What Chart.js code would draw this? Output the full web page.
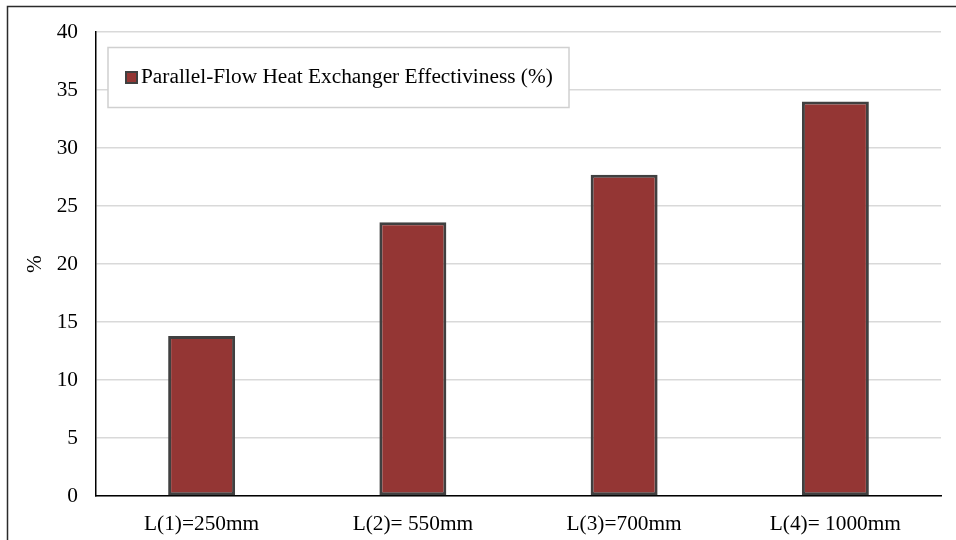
<!DOCTYPE html>
<html>
<head>
<meta charset="utf-8">
<title>Parallel-Flow Heat Exchanger Effectiviness</title>
<script src="https://cdn.jsdelivr.net/npm/chart.js@4/dist/chart.umd.min.js"></script>
<style>
  html, body { margin: 0; padding: 0; background: #ffffff; }
  #wrap { position: relative; width: 956px; height: 540px; }
  canvas { display: block; }
</style>
</head>
<body>
<div id="wrap"><canvas id="chart" width="956" height="540"></canvas></div>
<script>
// Tube lengths and the measured effectiveness for each
const categories = ['L(1)=250mm', 'L(2)= 550mm', 'L(3)=700mm', 'L(4)= 1000mm'];
const effectiveness = [13.8, 23.6, 27.7, 34.0];
const seriesLabel = 'Parallel-Flow Heat Exchanger Effectiviness (%)';
const yAxisTitle = '%';
const yMin = 0;
const yMax = 40;
const yStep = 5;

const FONT = '"Liberation Serif", "Times New Roman", serif';
const FONT_SIZE = 21.33;
const BAR_FILL = '#943634';
const BAR_EDGE = '#404040';

// Outer frame lines along the top and left of the figure
const framePlugin = {
  id: 'frame',
  beforeDraw(chart) {
    const ctx = chart.ctx;
    ctx.save();
    ctx.strokeStyle = '#2b2b2b';
    ctx.lineWidth = 1.5;
    ctx.beginPath();
    ctx.moveTo(7.5, chart.height + 2);
    ctx.lineTo(7.5, 6.5);
    ctx.lineTo(chart.width + 2, 6.5);
    ctx.stroke();
    ctx.restore();
  }
};

// Boxed legend placed inside the plot area, upper left
const boxedLegend = {
  id: 'boxedLegend',
  afterDraw(chart) {
    const ctx = chart.ctx;
    const area = chart.chartArea;
    const ds = chart.data.datasets[0];
    const x0 = area.left + 12;
    const y0 = 47.5;
    const w = 461;
    const h = 60;
    ctx.save();
    ctx.fillStyle = '#ffffff';
    ctx.fillRect(x0, y0, w, h);
    ctx.strokeStyle = '#d0d0d0';
    ctx.lineWidth = 1.5;
    ctx.strokeRect(x0, y0, w, h);
    // marker
    const mx = x0 + 18, my = y0 + 24.5, ms = 11;
    ctx.fillStyle = ds.backgroundColor;
    ctx.fillRect(mx, my, ms, ms);
    ctx.strokeStyle = ds.borderColor;
    ctx.lineWidth = 2;
    ctx.strokeRect(mx, my, ms, ms);
    // text
    ctx.fillStyle = '#000000';
    ctx.font = FONT_SIZE + 'px ' + FONT;
    ctx.textBaseline = 'middle';
    ctx.textAlign = 'left';
    ctx.fillText(ds.label, mx + ms + 4, my + ms / 2);
    ctx.restore();
  }
};

new Chart(document.getElementById('chart'), {
  type: 'bar',
  data: {
    labels: categories,
    datasets: [{
      label: seriesLabel,
      data: effectiveness,
      backgroundColor: BAR_FILL,
      borderColor: BAR_EDGE,
      borderWidth: 3,
      borderSkipped: false,
      categoryPercentage: 0.317,
      barPercentage: 1.0
    }]
  },
  options: {
    responsive: false,
    animation: false,
    devicePixelRatio: 1,
    layout: { padding: { left: 0, right: 15, top: 32, bottom: 0 } },
    plugins: {
      legend: { display: false },
      tooltip: { enabled: false }
    },
    scales: {
      x: {
        grid: { display: false },
        border: { display: true, color: '#000000', width: 1.5 },
        ticks: {
          color: '#000000',
          font: { family: FONT, size: FONT_SIZE },
          padding: 8,
          maxRotation: 0,
          autoSkip: false
        },
        afterFit(scale) { scale.height = 44; }
      },
      y: {
        min: yMin,
        max: yMax,
        grid: { color: '#d9d9d9', lineWidth: 1.5, drawTicks: false },
        border: { display: true, color: '#000000', width: 1.5 },
        ticks: {
          stepSize: yStep,
          color: '#000000',
          font: { family: FONT, size: FONT_SIZE },
          padding: 18
        },
        title: {
          display: true,
          text: yAxisTitle,
          color: '#000000',
          font: { family: FONT, size: FONT_SIZE },
          padding: { top: 23, bottom: 0 }
        },
        afterFit(scale) { scale.width = 96; }
      }
    }
  },
  plugins: [framePlugin, boxedLegend]
});
</script>
</body>
</html>
